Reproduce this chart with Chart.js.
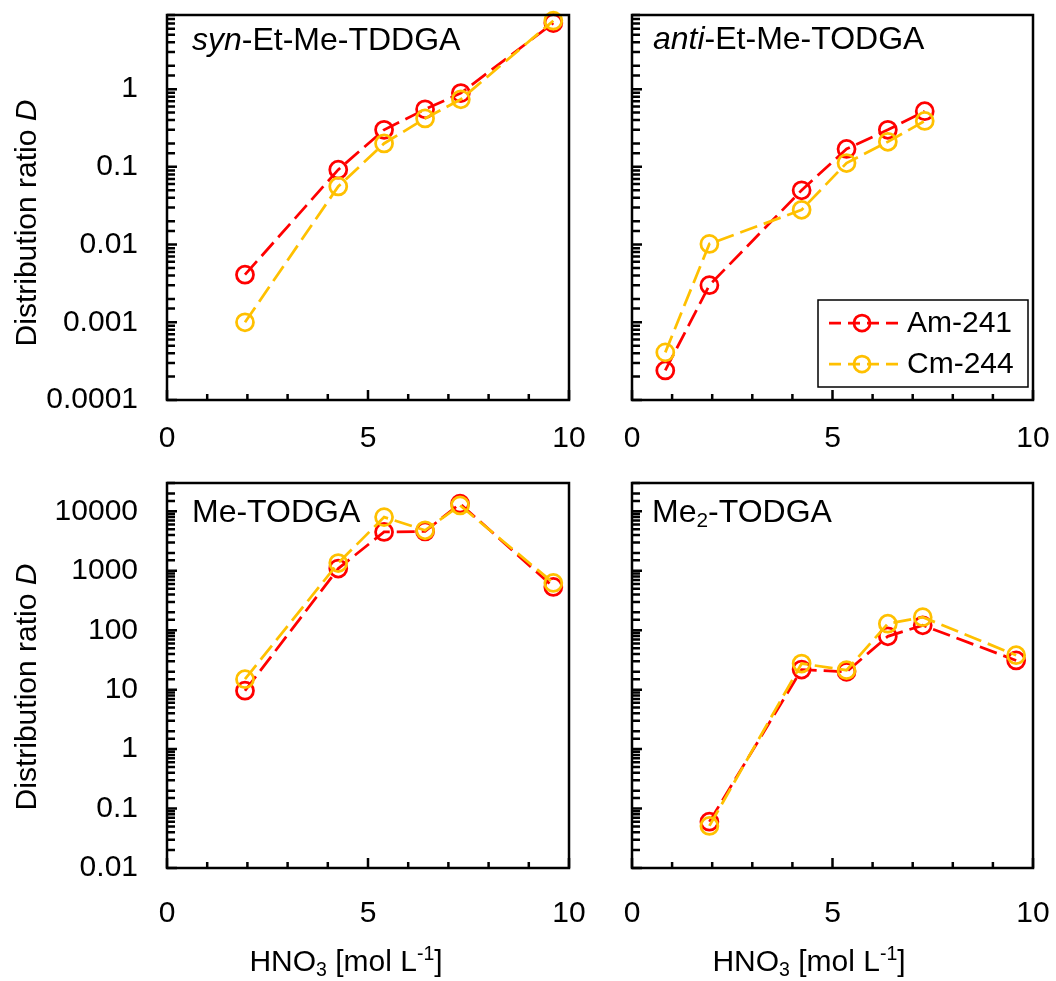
<!DOCTYPE html>
<html>
<head>
<meta charset="utf-8">
<script src="https://cdn.jsdelivr.net/npm/chart.js@4.4.1/dist/chart.umd.min.js"></script>
<style>
  body { margin: 0; background: #fff; }
  #wrap { position: relative; width: 1056px; height: 981px; overflow: hidden;
          font-family: 'Liberation Sans', Arial, sans-serif; color: #000; }
  canvas { position: absolute; }
  .t { position: absolute; white-space: nowrap; line-height: 1; }
  .ttl { font-size: 32px; }
  .ax { font-size: 30px; }
  .sub { font-size: 0.65em; position: relative; top: 0.25em; }
  .sup { font-size: 0.65em; position: relative; top: -0.55em; }
  .ytl { transform: translate(-50%, -50%) rotate(-90deg); }
  .xtl { transform: translateX(-50%); }
</style>
</head>
<body>
<div id="wrap">
  <canvas id="c1" width="600" height="470" style="left:0;top:0"></canvas>
  <canvas id="c2" width="456" height="470" style="left:600px;top:0"></canvas>
  <canvas id="c3" width="600" height="511" style="left:0;top:470px"></canvas>
  <canvas id="c4" width="456" height="511" style="left:600px;top:470px"></canvas>

  <div class="t ttl" style="left:192px;top:23px"><i>syn</i>-Et-Me-TDDGA</div>
  <div class="t ttl" style="left:653px;top:22px"><i>anti</i>-Et-Me-TODGA</div>
  <div class="t ttl" style="left:192px;top:495px">Me-TODGA</div>
  <div class="t ttl" style="left:652px;top:495px">Me<span class="sub">2</span>-TODGA</div>

  <div class="t ax ytl" style="left:26px;top:223px">Distribution ratio <i>D</i></div>
  <div class="t ax ytl" style="left:26px;top:687px">Distribution ratio <i>D</i></div>
  <div class="t ax xtl" style="left:346px;top:946px">HNO<span class="sub">3</span> [mol L<span class="sup">-1</span>]</div>
  <div class="t ax xtl" style="left:809px;top:946px">HNO<span class="sub">3</span> [mol L<span class="sup">-1</span>]</div>
</div>

<script>
// series names and colours
const seriesNames = ['Am-241', 'Cm-244'];
const seriesColors = ['#FF0000', '#FFC000'];

// syn-Et-Me-TDDGA
const synX = [1.94, 4.26, 5.40, 6.42, 7.31, 9.61];
const synAm = [0.0041, 0.092, 0.30, 0.55, 0.89, 7.1];
const synCm = [0.0010, 0.056, 0.20, 0.42, 0.74, 7.6];

// anti-Et-Me-TODGA
const antiX = [0.83, 1.93, 4.23, 5.35, 6.38, 7.30];
const antiAm = [0.00024, 0.0030, 0.050, 0.17, 0.30, 0.52];
const antiCm = [0.00041, 0.0102, 0.028, 0.112, 0.21, 0.39];

// Me-TODGA
const meX = [1.94, 4.26, 5.40, 6.42, 7.29, 9.61];
const meAm = [9.6, 1090, 4500, 4600, 13500, 535];
const meCm = [15, 1350, 8000, 4800, 12600, 625];

// Me2-TODGA
const me2X = [1.93, 4.23, 5.35, 6.38, 7.25, 9.58];
const me2Am = [0.060, 21.8, 20, 79, 121, 31];
const me2Cm = [0.051, 27.5, 21.3, 129, 166, 38];

// tick labels
const xTickLabels = [0, 5, 10];
const yTickLabelsTop = [0.0001, 0.001, 0.01, 0.1, 1];
const yTickLabelsBottom = [0.01, 0.1, 1, 10, 100, 1000, 10000];

const FONT = "'Liberation Sans', Arial, sans-serif";

function isPow10(v) {
  const l = Math.log10(v);
  return Math.abs(l - Math.round(l)) < 1e-6;
}

// plot box + inward ticks, drawn from the library's scales
const frameTicks = {
  id: 'frameTicks',
  afterDraw(chart) {
    const { ctx, chartArea: a, scales: { x, y } } = chart;
    ctx.save();
    ctx.strokeStyle = '#000';
    ctx.lineWidth = 2.5;
    ctx.beginPath();
    y.ticks.forEach(t => {
      const p = y.getPixelForValue(t.value);
      const len = isPow10(t.value) ? 10 : 8;
      ctx.moveTo(a.left, p);
      ctx.lineTo(a.left + len, p);
    });
    x.ticks.forEach(t => {
      const p = x.getPixelForValue(t.value);
      const len = t.value % 5 === 0 ? 10 : 6;
      ctx.moveTo(p, a.bottom);
      ctx.lineTo(p, a.bottom - len);
    });
    ctx.stroke();
    ctx.lineWidth = 2.5;
    ctx.strokeRect(a.left, a.top, a.right - a.left, a.bottom - a.top);
    ctx.restore();
  }
};

// legend box inside the anti panel
const legendBox = {
  id: 'legendBox',
  afterDraw(chart) {
    const { ctx, chartArea: a } = chart;
    const bx = a.right - 215, by = 300;
    ctx.save();
    ctx.fillStyle = '#fff';
    ctx.fillRect(bx, by, 210, 87);
    ctx.strokeStyle = '#000';
    ctx.lineWidth = 1.5;
    ctx.strokeRect(bx, by, 210, 87);
    seriesNames.forEach((name, i) => {
      const yy = by + 23 + i * 41;
      ctx.strokeStyle = seriesColors[i];
      ctx.lineWidth = 2.75;
      ctx.setLineDash([12, 7]);
      ctx.beginPath();
      ctx.moveTo(bx + 11, yy);
      ctx.lineTo(bx + 80, yy);
      ctx.stroke();
      ctx.setLineDash([]);
      ctx.beginPath();
      ctx.arc(bx + 44, yy, 8, 0, Math.PI * 2);
      ctx.stroke();
      ctx.fillStyle = '#000';
      ctx.font = '30px ' + FONT;
      ctx.textBaseline = 'middle';
      ctx.fillText(name, bx + 89, yy + 1);
    });
    ctx.restore();
  }
};

function pts(xs, ys) {
  return xs.map((x, i) => ({ x: x, y: ys[i] }));
}

function makeChart(id, xs, am, cm, yMin, yMax, yLabels, lay, extra) {
  const ds = (ys, i) => ({
    label: seriesNames[i],
    data: pts(xs, ys),
    borderColor: seriesColors[i],
    borderWidth: 2.75,
    borderDash: [18, 7],
    pointRadius: 8.5,
    pointBorderWidth: 2.75,
    pointBorderColor: seriesColors[i],
    pointBackgroundColor: 'rgba(0,0,0,0)',
    fill: false,
    tension: 0,
    clip: false,
    order: 1 - i
  });
  return new Chart(document.getElementById(id), {
    type: 'line',
    data: { datasets: [ds(am, 0), ds(cm, 1)] },
    options: {
      responsive: false,
      animation: false,
      layout: { padding: { left: 0, top: lay.top, right: lay.right, bottom: 0 } },
      plugins: { legend: { display: false }, tooltip: { enabled: false } },
      scales: {
        x: {
          type: 'linear', min: 0, max: 10,
          grid: { display: false, drawTicks: false },
          border: { display: false },
          ticks: {
            stepSize: 1, autoSkip: false, maxRotation: 0, padding: lay.xPad,
            color: '#000', font: { family: FONT, size: 30 },
            callback: v => xTickLabels.includes(v) ? String(v) : ''
          },
          afterFit: s => {
            s.height = lay.bottomH;
            s.paddingLeft = 0; s.paddingRight = 0;
          }
        },
        y: {
          type: 'logarithmic', min: yMin, max: yMax,
          grid: { display: false, drawTicks: false },
          border: { display: false },
          ticks: {
            autoSkip: false, padding: 29,
            color: '#000', font: { family: FONT, size: 30 },
            callback: v => {
              const k = yLabels.find(t => Math.abs(t - v) / t < 1e-6);
              return k === undefined ? '' : String(k);
            }
          },
          afterFit: s => {
            s.width = lay.leftW;
            s.paddingTop = 0; s.paddingBottom = 0;
          }
        }
      }
    },
    plugins: [frameTicks].concat(extra || [])
  });
}

makeChart('c1', synX, synAm, synCm, 0.0001, 9, yTickLabelsTop,
  { leftW: 167, right: 31, top: 15, bottomH: 70, xPad: 21 });
makeChart('c2', antiX, antiAm, antiCm, 0.0001, 9, [],
  { leftW: 32, right: 23, top: 15, bottomH: 70, xPad: 21 }, [legendBox]);
makeChart('c3', meX, meAm, meCm, 0.01, 30000, yTickLabelsBottom,
  { leftW: 167, right: 31, top: 13, bottomH: 113, xPad: 28 });
makeChart('c4', me2X, me2Am, me2Cm, 0.01, 30000, [],
  { leftW: 32, right: 23, top: 13, bottomH: 113, xPad: 28 });
</script>
</body>
</html>
